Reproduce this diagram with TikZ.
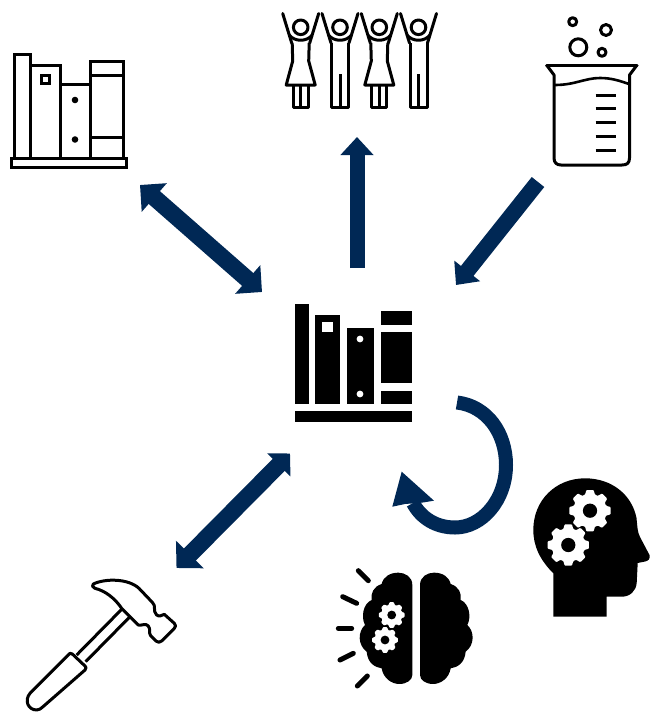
\documentclass[tikz,border=0pt]{standalone}
\usetikzlibrary{arrows.meta}
\definecolor{navy}{RGB}{0,40,85}
\tikzset{
  icon/.style={line width=3pt,line join=round,line cap=butt,draw=black},
  thin icon/.style={icon,line width=3pt},
  blockarrow/.style={draw=navy,line width=17pt,line cap=butt},
  big tip/.style={Triangle[length=19pt,width=37pt,fill=navy]},
  small tip/.style={Triangle[length=16pt,width=32pt,fill=navy]},
  sgl/.style={blockarrow,-{Triangle[length=18pt,width=32pt,fill=navy]}},
  solid shape/.style={fill=black,draw=none},
  ray/.style={line width=5pt,line cap=round,draw=black}
}
\newcommand{\gearat}[4]{% x y R hole colour
  \begin{scope}[shift={(#1,#2)}]
    \fill[white,rounded corners=0.8pt] (-17:{0.8*#3})
      \foreach \a in {0,45,...,315} {
        -- ({\a-17}:{0.8*#3}) -- ({\a-10}:{#3}) -- ({\a+10}:{#3}) -- ({\a+17}:{0.8*#3})
      } -- cycle;
    \fill[#4] (0,0) circle ({0.34*#3});
  \end{scope}}
\newcommand{\brainhalf}{%
  \fill[black] (247,345) -- (247,75) .. controls (247,50) and (225,38) .. (205,38)
    .. controls (180,38) and (160,50) .. (155,72)
    .. controls (130,80) and (122,100) .. (125,120)
    .. controls (100,130) and (92,170) .. (105,195)
    .. controls (83,215) and (83,255) .. (110,275)
    .. controls (113,310) and (135,322) .. (155,325)
    .. controls (160,355) and (185,372) .. (208,372)
    .. controls (230,372) and (247,360) .. (247,345) -- cycle;}
\begin{document}
\begin{tikzpicture}[x=1pt,y=-1pt]
\useasboundingbox (0,0) rectangle (650,712);

% outline books
\begin{scope}[icon,line join=miter]
  \draw (11,158) rectangle (126,167);
  \draw (14,158) -- (14,54.5) -- (30.5,54.5) -- (30.5,158);
  \draw (30.5,65) -- (60,65) -- (60,158);
  \draw (41,75) rectangle (49,83);
  \draw (60,84) -- (90,84) -- (90,158);
  \draw (90,84) -- (90,61) -- (123,61) -- (123,158);
  \draw (90,75) -- (123,75);
  \draw (90,137.5) -- (123,137.5);
  \fill (75,100) circle (3.3);
  \fill (75,139.5) circle (3.3);
\end{scope}

% people
\foreach \cx/\w in {300.7/1,340/0,379.3/1,418.5/0}{
  \begin{scope}[shift={(\cx,0)},thin icon]
    \draw (0,27.3) circle (7.3);
    \draw[line cap=round] (-18,13.5) -- (-9,43);
    \draw[line cap=round] (18,13.5) -- (9,43);
    \draw (-11.5,35) .. controls (-6,42) and (6,42) .. (11.5,35);
    \ifnum\w=1
      \draw (-8.5,43) -- (-8,61) -- (-14.5,85) -- (14.5,85) -- (8,61) -- (8.5,43);
      \draw (-7.5,85) -- (-7.5,107) -- (7.5,107) -- (7.5,85);
      \draw (0,85) -- (0,107);
    \else
      \draw (-8.5,43) -- (-8.5,107) -- (8.5,107) -- (8.5,43);
      \draw (0,74) -- (0,107);
    \fi
  \end{scope}
}

% beaker
\begin{scope}[icon]
  \draw[line cap=round] (546.5,65) -- (637,65);
  \draw (546.5,65) -- (554,75) -- (554,158) .. controls (554,163) and (557,165) .. (561,165)
     -- (622,165) .. controls (627,165) and (629.5,163) .. (629.5,158) -- (629.5,75) -- (637,65);
  \draw[line width=2.6pt] (555,85) .. controls (575,85) and (585,78) .. (600,78) .. controls (612,78) and (620,81) .. (629,84);
  \foreach \y in {95,108.7,122.3,136,150} \draw (595.7,\y) -- (616,\y);
  \draw (572.7,21.7) circle (4);
  \draw (606,30) circle (5.5);
  \draw (578.3,47.3) circle (8.5);
  \draw (602,52.3) circle (4);
\end{scope}

% central books
\begin{scope}[solid shape]
  \fill (294.7,411) rectangle (412.3,421.7);
  \fill (294.7,304.3) rectangle (308.7,404.3);
  \fill (315.3,315) rectangle (340,404.3);
  \fill[white] (322.3,321.7) rectangle (332.7,331.7);
  \fill (346.7,328.3) rectangle (374,404.3);
  \fill[white] (360,339) circle (3.4);
  \fill[white] (360,394) circle (3.4);
  \fill (381,311) rectangle (412.3,325);
  \fill (381,331.7) rectangle (412.3,383.3);
  \fill (381,390.7) rectangle (412.3,404.3);
\end{scope}

% head with gears
\fill[black] (553.3,616.7) -- (553.3,573.3) .. controls (540,560) and (533.3,546) .. (533.3,530)
  .. controls (533.3,500) and (556,478.3) .. (585,478.3)
  .. controls (612,478.3) and (632,495) .. (636.5,518)
  .. controls (637.5,528) and (637.5,532) .. (640,537)
  -- (649.5,555) .. controls (650.5,559) and (648,561) .. (645,561.5) -- (637.7,563)
  -- (636.7,583) .. controls (636,591) and (630,596.7) .. (621.7,596.7)
  -- (606.7,596.7) -- (606.7,616.7) -- cycle;
\gearat{590}{510.7}{21}{black}
\gearat{568.3}{545}{21}{black}

% brain
\begin{scope}[shift={(330,560)},x=0.3333pt,y=-0.3333pt]
  \brainhalf
  \begin{scope}[xshift=172.33pt,xscale=-1]
    \brainhalf
  \end{scope}
  \draw[ray] (85,32) -- (115,62);
  \draw[ray] (38,110) -- (80,130);
  \draw[ray] (25,205) -- (65,205);
  \draw[ray] (30,300) -- (70,280);
  \draw[ray] (82,378) -- (112,348);
\end{scope}
\gearat{391.7}{615}{13}{black}
\gearat{385}{640}{13}{black}

% hammer
\begin{scope}[shift={(15,570)},x=0.3333pt,y=-0.3333pt,icon]
  \draw (235,42) .. controls (270,25) and (340,25) .. (372,55) -- (412,97)
    .. controls (425,108) and (412,122) .. (425,135) .. controls (433,142) and (440,135) .. (448,133)
    -- (478,160) .. controls (483,165) and (483,170) .. (478,175)
    -- (440,213) .. controls (435,218) and (428,218) .. (423,213) -- (407,197)
    .. controls (400,188) and (408,178) .. (400,168) .. controls (392,158) and (380,168) .. (370,165)
    -- (345,140) -- (320,115) .. controls (300,85) and (270,62) .. (240,55)
    .. controls (232,52) and (230,46) .. (235,42) -- cycle;
  \draw (320,118) -- (185,255);
  \draw (345,140) -- (212,275);
  \draw (165,250) -- (45,370) .. controls (28,390) and (38,420) .. (65,420)
    .. controls (72,420) and (78,416) .. (83,411) -- (210,300) .. controls (214,295) and (214,290) .. (210,288)
    -- (172,252) .. controls (170,250) and (167,249) .. (165,250) -- cycle;
\end{scope}

% arrows
\coordinate (shelfEnd) at (140,185);
\coordinate (centreNW) at (262,292);
\coordinate (peopleEnd) at (357,137);
\coordinate (centreN) at (357,268);
\coordinate (beakerEnd) at (538,182);
\coordinate (centreNE) at (456,285);
\coordinate (hammerEnd) at (176.5,568);
\coordinate (centreSW) at (290,453.5);
\coordinate (loopStart) at (457,402.5);
\coordinate (loopEnd) at (413,503);

\draw[blockarrow,{Triangle[length=19pt,width=37pt,fill=navy]}-{Triangle[length=19pt,width=37pt,fill=navy]}] (shelfEnd) -- (centreNW);
\draw[sgl,line width=15pt] (centreN) -- (peopleEnd);
\draw[sgl,line width=16pt] (beakerEnd) -- (centreNE);
\draw[blockarrow,{Triangle[length=19pt,width=38pt,fill=navy]}-{Triangle[length=16pt,width=32pt,fill=navy]}] (hammerEnd) -- (centreSW);
\draw[navy,line width=14pt,line cap=butt] (loopStart)
  .. controls (487,406) and (506,433) .. (506,465)
  .. controls (506,500) and (482,527.5) .. (455,527.5)
  .. controls (436,527.5) and (421,518) .. (loopEnd);
\fill[navy] (401.7,471.7) -- (434,500.7) -- (421.7,502.7) -- (405,504) -- (392.3,506.7) -- cycle;
\end{tikzpicture}
\end{document}
